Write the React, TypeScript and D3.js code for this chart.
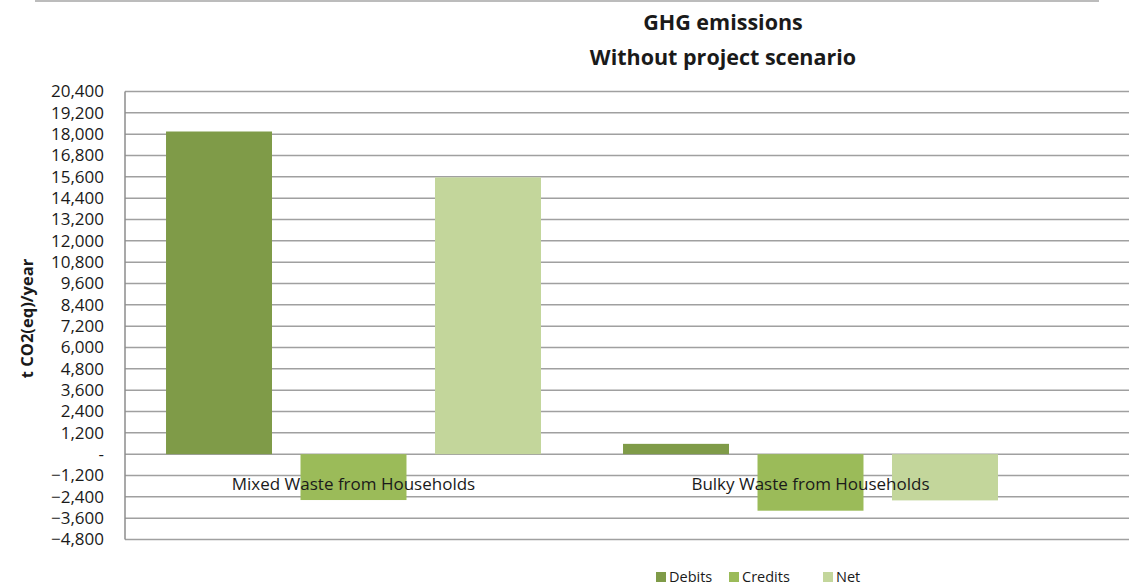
import React from "react";
import * as d3 from "d3";

const categories = ["Mixed Waste from Households", "Bulky Waste from Households"];
const seriesNames = ["Debits", "Credits", "Net"];
const debits = [18150, 580];
const credits = [-2580, -3180];
const net = [15570, -2600];
const yTicks = [
  20400, 19200, 18000, 16800, 15600, 14400, 13200, 12000, 10800, 9600, 8400, 7200,
  6000, 4800, 3600, 2400, 1200, 0, -1200, -2400, -3600, -4800,
];
const seriesColors = ["#7f9b48", "#9bbb59", "#c3d69b"];
const titleLines = ["GHG emissions", "Without project scenario"];
const yAxisTitle = "t CO2(eq)/year";

const W = 1129;
const H = 587;
const FONT = "'Open Sans', 'DejaVu Sans', sans-serif";

export default function App() {
  const plotLeft = 125;
  const plotTop = 91.5;
  const plotBottom = 539.5;

  const y = d3.scaleLinear().domain([-4800, 20400]).range([plotBottom, plotTop]);
  const x0 = d3.scaleBand<string>().domain(categories).range([plotLeft, plotLeft + 914]);
  const x1 = d3
    .scaleBand<string>()
    .domain(seriesNames)
    .range([0, x0.bandwidth()])
    .paddingInner(0.212)
    .paddingOuter(0.305);

  const values = [debits, credits, net];
  const fmt = (v: number) => (v === 0 ? "-" : d3.format(",")(v));

  return (
    <svg
      width={W}
      height={H}
      style={{ position: "absolute", left: 0, top: 0, display: "block", background: "#fff" }}
      fontFamily={FONT}
    >
      <line x1={35} x2={1099} y1={1} y2={1} stroke="#a6a6a6" strokeWidth={1.5} />

      {titleLines.map((t, i) => (
        <text
          key={t}
          x={723}
          y={30 + i * 35}
          textAnchor="middle"
          fontSize={21.5}
          fontWeight="bold"
          fill="#1a1a1a"
        >
          {t}
        </text>
      ))}

      {/* gridlines */}
      {yTicks.map((t) => (
        <line
          key={"g" + t}
          x1={plotLeft}
          x2={W}
          y1={y(t)}
          y2={y(t)}
          stroke="#a0a0a0"
          strokeWidth={1.5}
        />
      ))}
      <line x1={plotLeft} x2={plotLeft} y1={plotTop} y2={plotBottom} stroke="#8c8c8c" strokeWidth={1.5} />

      {/* bars */}
      {categories.map((c, ci) =>
        seriesNames.map((s, si) => {
          const v = values[si][ci];
          const bx = (x0(c) ?? 0) + (x1(s) ?? 0);
          return (
            <rect
              key={c + s}
              x={bx}
              y={Math.min(y(v), y(0))}
              width={x1.bandwidth()}
              height={Math.abs(y(v) - y(0))}
              fill={seriesColors[si]}
            />
          );
        })
      )}

      {/* y tick labels */}
      {yTicks.map((t) => (
        <text
          key={"t" + t}
          x={104}
          y={y(t)}
          dy="0.35em"
          textAnchor="end"
          fontSize={17}
          fill="#1a1a1a"
        >
          {fmt(t)}
        </text>
      ))}

      <text
        transform={`translate(27, ${(plotTop + plotBottom) / 2 + 3}) rotate(-90)`}
        textAnchor="middle"
        dy="0.35em"
        fontSize={16.5}
        fontWeight="bold"
        fill="#1a1a1a"
      >
        {yAxisTitle}
      </text>

      {/* category labels */}
      {categories.map((c) => (
        <text
          key={"c" + c}
          x={(x0(c) ?? 0) + x0.bandwidth() / 2}
          y={484}
          dy="0.35em"
          textAnchor="middle"
          fontSize={17}
          fill="#1a1a1a"
        >
          {c}
        </text>
      ))}

      {/* legend */}
      {seriesNames.map((s, i) => {
        const lx = [656, 729, 823][i];
        return (
          <g key={"l" + s}>
            <rect x={lx} y={572} width={10} height={10} fill={seriesColors[i]} />
            <text x={lx + 13} y={577} dy="0.35em" fontSize={14.5} fill="#1a1a1a">
              {s}
            </text>
          </g>
        );
      })}
    </svg>
  );
}
